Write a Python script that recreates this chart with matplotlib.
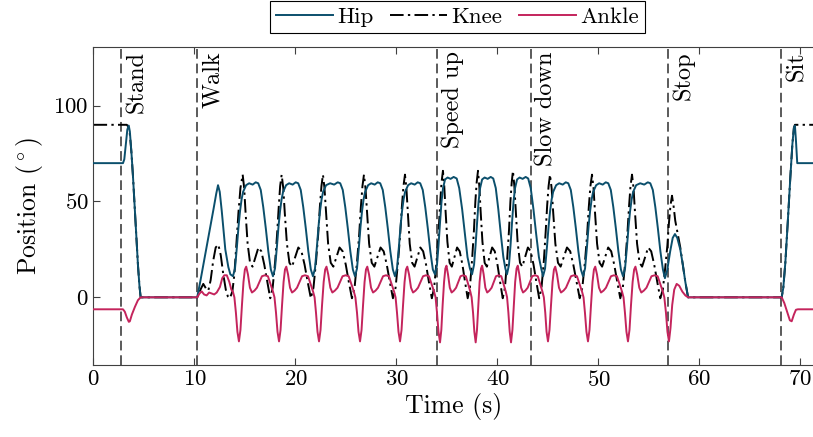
import matplotlib.pyplot as plt

plt.rcParams['font.family'] = 'cmr10'
plt.rcParams['mathtext.fontset'] = 'cm'
plt.rcParams['axes.formatter.use_mathtext'] = True

# phase changes (s) and their names
event_t = [2.72, 10.27, 33.98, 43.29, 56.85, 68.07]
event_names = ['Stand', 'Walk', 'Speed up', 'Slow down', 'Stop', 'Sit']

# hip angle (deg)
hip_t = [0, 2.92, 3.05, 3.2, 3.35, 3.49, 3.6, 3.75, 3.91, 4.08, 4.24, 4.4, 4.55, 4.67, 10.27,
         10.6, 11.0, 11.5, 11.9, 12.15, 12.33, 12.5, 12.7, 12.85, 13.05, 13.35, 13.55,
         13.81, 14.01, 14.21, 14.36, 14.51, 14.66, 14.81, 15.11, 15.41, 15.76, 16.06, 16.31, 16.56, 16.81, 17.06, 17.31, 17.56,
         17.77, 17.97, 18.17, 18.32, 18.47, 18.62, 18.77, 19.07, 19.37, 19.72, 20.02, 20.27, 20.52, 20.77, 21.02, 21.27, 21.52,
         21.73, 21.93, 22.13, 22.28, 22.43, 22.58, 22.73, 23.03, 23.43, 23.83, 24.18, 24.43, 24.68, 24.93, 25.18, 25.43, 25.68,
         25.89, 26.09, 26.29, 26.44, 26.59, 26.74, 26.89, 27.19, 27.49, 27.84, 28.14, 28.39, 28.64, 28.89, 29.14, 29.39, 29.64,
         29.85, 30.05, 30.25, 30.4, 30.55, 30.7, 30.85, 31.15, 31.45, 31.8, 32.1, 32.35, 32.6, 32.85, 33.1, 33.35, 33.6,
         33.81, 34.01, 34.16, 34.31, 34.46, 34.61, 34.81, 35.06, 35.36, 35.66, 35.96, 36.21, 36.5, 36.78, 37.03, 37.27,
         37.48, 37.68, 37.83, 37.98, 38.13, 38.28, 38.48, 38.73, 39.03, 39.33, 39.58, 39.83, 40.08, 40.33, 40.58, 40.78,
         40.94, 41.14, 41.29, 41.44, 41.59, 41.74, 41.94, 42.19, 42.49, 42.79, 43.04, 43.29, 43.56, 43.83, 44.1, 44.33,
         44.51, 44.71, 44.91, 45.06, 45.21, 45.36, 45.51, 45.81, 46.11, 46.46, 46.76, 47.01, 47.26, 47.51, 47.76, 48.01, 48.26,
         48.47, 48.67, 48.87, 49.02, 49.17, 49.32, 49.47, 49.77, 50.07, 50.42, 50.72, 50.97, 51.22, 51.47, 51.72, 51.97, 52.22,
         52.43, 52.63, 52.83, 52.98, 53.13, 53.28, 53.43, 53.73, 54.13, 54.53, 54.88, 55.13, 55.38, 55.63, 55.88, 56.13, 56.38,
         56.58, 56.8, 57.1, 57.35, 57.57, 57.8, 58.1, 58.35, 58.6, 58.87,
         68.14, 68.3, 68.5, 68.75, 69.0, 69.2, 69.35, 69.45, 69.55, 69.68, 71.3]
hip_v = [70, 70, 72, 80, 87.5, 89.6, 86.5, 76, 63, 47, 32, 17, 6, 0, 0,
         9, 20.5, 35, 46.5, 54, 58.5, 55, 45, 36.6, 25, 15.8, 12,
         11, 15, 27, 37, 45, 51, 55, 58.5, 59.5, 58.8, 60, 59.5, 56, 47, 36, 24, 14.5,
         11, 15, 27, 37, 45, 51, 55, 58.5, 59.5, 58.8, 60, 59.5, 56, 47, 36, 24, 14.5,
         11, 15, 27, 37, 45, 51, 55, 58.5, 59.5, 58.8, 60, 59.5, 56, 47, 36, 24, 14.5,
         11, 15, 27, 37, 45, 51, 55, 58.5, 59.5, 58.8, 60, 59.5, 56, 47, 36, 24, 14.5,
         11, 15, 27, 37, 45, 51, 55, 58.5, 59.5, 58.8, 60, 59.5, 56, 47, 36, 24, 14.5,
         12, 17, 27, 39, 50, 57, 61.5, 62.5, 61.8, 62.8, 62, 57, 46, 33, 21, 15,
         12, 17, 27, 39, 50, 57, 61.5, 62.5, 61.8, 62.8, 62, 57, 46, 33, 21, 15,
         12, 17, 27, 39, 50, 57, 61.5, 62.5, 61.8, 62.8, 62, 57, 46, 33, 21, 15,
         11, 15, 27, 37, 45, 51, 55, 58.5, 59.5, 58.8, 60, 59.5, 56, 47, 36, 24, 14.5,
         11, 15, 27, 37, 45, 51, 55, 58.5, 59.5, 58.8, 60, 59.5, 56, 47, 36, 24, 14.5,
         11, 15, 27, 37, 45, 51, 55, 58.5, 59.5, 58.8, 60, 59.5, 56, 47, 36, 24, 14.5,
         10, 14, 24, 31, 33, 31, 25, 17, 8, 0,
         0, 5, 18, 40, 63, 80, 88.5, 89.6, 82, 70, 70]

# knee angle (deg)
knee_t = [0, 3.3, 3.45, 3.6, 3.75, 3.91, 4.08, 4.24, 4.4, 4.55, 4.67, 10.27,
          10.5, 10.87, 11.15, 11.37, 11.6, 11.85, 12.1, 12.36, 12.6, 12.85, 13.1, 13.3, 13.5, 13.75, 13.95, 14.15, 14.35, 14.55,
          14.77, 14.92, 15.06, 15.26, 15.5, 15.75, 16.04, 16.33, 16.62, 16.91, 17.21, 17.5, 17.74, 17.99, 18.18, 18.34, 18.48,
          18.63, 18.79, 18.94, 19.15, 19.4, 19.66, 19.97, 20.28, 20.59, 20.9, 21.21, 21.52, 21.78, 22.04, 22.25, 22.41, 22.57,
          22.72, 22.87, 23.03, 23.23, 23.49, 23.75, 24.05, 24.36, 24.67, 24.98, 25.28, 25.59, 25.85, 26.1, 26.31, 26.47, 26.63,
          26.78, 26.93, 27.09, 27.29, 27.55, 27.81, 28.11, 28.42, 28.73, 29.04, 29.34, 29.65, 29.91, 30.16, 30.37, 30.53, 30.69,
          30.84, 30.98, 31.13, 31.31, 31.55, 31.79, 32.07, 32.36, 32.64, 32.93, 33.21, 33.5, 33.73, 33.97, 34.16, 34.31, 34.46,
          34.6, 34.73, 34.86, 35.04, 35.26, 35.48, 35.74, 36.0, 36.26, 36.53, 36.79, 37.05, 37.27, 37.49, 37.67, 37.81, 37.94,
          38.07, 38.2, 38.33, 38.51, 38.73, 38.95, 39.21, 39.47, 39.73, 40.0, 40.26, 40.52, 40.74, 40.96, 41.14, 41.28, 41.41,
          41.53, 41.67, 41.81, 41.99, 42.23, 42.46, 42.73, 43.01, 43.29, 43.57, 43.85, 44.13, 44.36, 44.59, 44.77, 44.92, 45.06,
          45.2, 45.36, 45.52, 45.73, 45.99, 46.25, 46.57, 46.88, 47.2, 47.51, 47.83, 48.14, 48.4, 48.67, 48.88, 49.04, 49.2,
          49.36, 49.51, 49.66, 49.86, 50.11, 50.36, 50.66, 50.96, 51.26, 51.56, 51.86, 52.16, 52.41, 52.66, 52.86, 53.02, 53.17,
          53.32, 53.47, 53.62, 53.82, 54.07, 54.32, 54.62, 54.92, 55.22, 55.52, 55.82, 56.12, 56.37, 56.62, 56.82, 56.98, 57.13,
          57.28, 57.45, 57.6, 57.85, 58.1, 58.35, 58.6, 58.87,
          68.14, 68.3, 68.5, 68.75, 69.0, 69.2, 69.35, 69.45, 71.3]
knee_v = [90, 90, 89, 85, 76, 63, 47, 32, 17, 6, 0, 0,
          3, 7, 4.5, 3.5, 9, 19, 26, 27.5, 22, 12, 4, 0.5, -0.5, 3, 12, 28, 44, 57,
          64, 57, 44, 28, 18, 16, 21, 26, 24, 17, 8, -0.5, 5, 19, 33, 47, 58,
          64, 57, 44, 28, 18, 16, 21, 26, 24, 17, 8, -0.5, 5, 19, 33, 47, 58,
          64, 57, 44, 28, 18, 16, 21, 26, 24, 17, 8, -0.5, 5, 19, 33, 47, 58,
          64, 57, 44, 28, 18, 16, 21, 26, 24, 17, 8, -0.5, 5, 19, 33, 47, 58,
          64, 57, 44, 28, 18, 16, 21, 26, 24, 17, 8, -0.5, 5, 19, 33, 48, 60,
          66, 58, 45, 29, 18, 16, 21, 26, 24, 17, 8, -0.5, 5, 20, 35, 50, 60,
          66, 58, 45, 29, 18, 16, 21, 26, 24, 17, 8, -0.5, 5, 20, 35, 50, 60,
          66, 58, 45, 29, 18, 16, 21, 26, 24, 17, 8, -0.5, 5, 19, 34, 48, 58,
          64, 57, 44, 28, 18, 16, 21, 26, 24, 17, 8, -0.5, 5, 19, 33, 47, 58,
          64, 57, 44, 28, 18, 16, 21, 26, 24, 17, 8, -0.5, 5, 19, 33, 47, 58,
          64, 57, 44, 28, 18, 16, 21, 26, 24, 17, 8, -0.5, 4, 16, 27, 39, 48,
          53, 47, 40, 33, 26, 17, 8, 0,
          0, 5, 18, 40, 63, 80, 88.5, 90, 90]

# ankle angle (deg)
ankle_t = [0, 2.92, 3.1, 3.3, 3.5, 3.6, 3.8, 4.1, 4.4, 4.67, 10.27,
           10.5, 10.71, 10.95, 11.2, 11.45, 11.7, 11.95, 12.2, 12.52, 12.75, 12.95, 13.2, 13.45, 13.65, 13.8, 13.95, 14.1, 14.25,
           14.4, 14.55, 14.7, 14.85, 14.99, 15.12, 15.29, 15.49, 15.69, 15.94, 16.18, 16.43, 16.68, 16.97, 17.27, 17.52, 17.77, 17.92, 18.07, 18.22,
           18.37, 18.52, 18.67, 18.82, 18.96, 19.09, 19.26, 19.46, 19.66, 19.91, 20.15, 20.4, 20.65, 20.94, 21.24, 21.49, 21.74, 21.89, 22.03, 22.18,
           22.33, 22.48, 22.63, 22.79, 22.94, 23.07, 23.24, 23.45, 23.65, 23.9, 24.16, 24.41, 24.66, 24.97, 25.27, 25.53, 25.78, 25.93, 26.09, 26.24,
           26.39, 26.54, 26.69, 26.84, 26.98, 27.11, 27.28, 27.48, 27.68, 27.93, 28.17, 28.42, 28.67, 28.96, 29.26, 29.51, 29.76, 29.91, 30.05, 30.2,
           30.35, 30.5, 30.65, 30.8, 30.94, 31.07, 31.24, 31.44, 31.64, 31.89, 32.13, 32.38, 32.63, 32.92, 33.22, 33.47, 33.72, 33.87, 34.01, 34.16,
           34.31, 34.44, 34.57, 34.71, 34.84, 34.95, 35.1, 35.28, 35.46, 35.68, 35.9, 36.12, 36.34, 36.6, 36.87, 37.09, 37.31, 37.44, 37.58, 37.71,
           37.84, 37.97, 38.1, 38.23, 38.37, 38.48, 38.63, 38.8, 38.98, 39.2, 39.42, 39.63, 39.85, 40.12, 40.38, 40.6, 40.82, 40.95, 41.08, 41.21,
           41.34, 41.48, 41.62, 41.75, 41.89, 42.01, 42.16, 42.34, 42.53, 42.76, 42.99, 43.22, 43.44, 43.72, 43.99, 44.22, 44.45, 44.59, 44.73, 44.86,
           45.0, 45.15, 45.3, 45.45, 45.59, 45.72, 45.89, 46.09, 46.29, 46.54, 46.78, 47.03, 47.28, 47.57, 47.87, 48.12, 48.37, 48.52, 48.66, 48.81,
           48.96, 49.11, 49.26, 49.41, 49.55, 49.68, 49.85, 50.05, 50.25, 50.5, 50.74, 50.99, 51.24, 51.53, 51.83, 52.08, 52.33, 52.48, 52.62, 52.77,
           52.92, 53.07, 53.22, 53.38, 53.53, 53.66, 53.83, 54.04, 54.24, 54.49, 54.75, 55.0, 55.25, 55.56, 55.86, 56.12, 56.37, 56.52, 56.68, 56.83,
           56.98, 57.13, 57.3, 57.5, 57.74, 58.0, 58.3, 58.6, 58.87,
           68.14, 68.4, 68.7, 68.95, 69.13, 69.35, 69.55, 69.75, 71.3]
ankle_v = [-6.25, -6.25, -7.5, -10.5, -12.8, -12.5, -9, -5, -1.5, 0, 0,
           2, 3.1, 1.5, 1, 2.5, 2, 1.5, 2.5, 5.4, 10, 11.5, 11.5, 8, 4, 3, 0, -8, -18,
           -23, -17, -4, 8, 14.5, 16, 12, 5, 2.5, 3.5, 5, 8, 11, 11.5, 11, 7, 3, 0, -8, -18,
           -23, -17, -4, 8, 14.5, 16, 12, 5, 2.5, 3.5, 5, 8, 11, 11.5, 11, 7, 3, 0, -8, -18,
           -23, -17, -4, 8, 14.5, 16, 12, 5, 2.5, 3.5, 5, 8, 11, 11.5, 11, 7, 3, 0, -8, -18,
           -23, -17, -4, 8, 14.5, 16, 12, 5, 2.5, 3.5, 5, 8, 11, 11.5, 11, 7, 3, 0, -8, -18,
           -23, -17, -4, 8, 14.5, 16, 12, 5, 2.5, 3.5, 5, 8, 11, 11.5, 11, 7, 3, 0, -8, -18,
           -23.5, -17, -4, 8, 15, 16.5, 12, 5, 2.5, 3.5, 5, 8, 11, 11.5, 11, 7, 3, 0, -8, -18,
           -23.5, -17, -4, 8, 15, 16.5, 12, 5, 2.5, 3.5, 5, 8, 11, 11.5, 11, 7, 3, 0, -8, -18,
           -23.5, -17, -4, 8, 15, 16.5, 12, 5, 2.5, 3.5, 5, 8, 11, 11.5, 11, 7, 3, 0, -8, -18,
           -23, -17, -4, 8, 14.5, 16, 12, 5, 2.5, 3.5, 5, 8, 11, 11.5, 11, 7, 3, 0, -8, -18,
           -23, -17, -4, 8, 14.5, 16, 12, 5, 2.5, 3.5, 5, 8, 11, 11.5, 11, 7, 3, 0, -8, -18,
           -23, -17, -4, 8, 14.5, 16, 12, 5, 2.5, 3.5, 5, 8, 11, 11.5, 11, 7, 3, 0, -8, -18,
           -23, -16, -4, 4, 7, 6, 3, 1, 0,
           0, -3, -8, -12, -12.5, -9, -6.5, -6.25, -6.25]

hip_color = '#0B4F6C'
ankle_color = '#C4245C'

fig = plt.figure(figsize=(8.13, 4.37), dpi=100)
ax = fig.add_axes([0.115, 0.1648, 0.885, 0.7277])

for t in event_t:
    ax.axvline(t, color='#5a5a5a', lw=1.4, ls=(0, (5, 2.5)), zorder=1)
for t, name in zip(event_t, event_names):
    ax.text(t + 1.55, 128.5, name, rotation=90, ha='center', va='top', fontsize=17.5)

l1, = ax.plot(hip_t, hip_v, color=hip_color, lw=1.4, label='Hip', zorder=3)
l2, = ax.plot(knee_t, knee_v, color='black', lw=1.4, ls=(0, (7, 2.2, 1.2, 2.2)), label='Knee', zorder=2)
l3, = ax.plot(ankle_t, ankle_v, color=ankle_color, lw=1.4, label='Ankle', zorder=3)

ax.set_xlim(0, 71.24)
ax.set_ylim(-35.3, 130.6)
ax.set_xticks(range(0, 71, 10))
ax.set_yticks([0, 50, 100])
ax.tick_params(direction='in', length=5, width=0.8, color='#404040', top=True, right=False, labelsize=16.5)
for s in ['left', 'bottom', 'top']:
    ax.spines[s].set_color('#404040')
    ax.spines[s].set_linewidth(0.8)
ax.spines['right'].set_visible(False)

ax.set_xlabel('Time (s)', fontsize=18.5, labelpad=2)
ax.set_ylabel(r'Position ($^\circ$)', fontsize=18.5, labelpad=6)

leg = fig.legend(handles=[l1, l2, l3], loc='upper center', bbox_to_anchor=(0.5625, 1.0), ncol=3,
                 fontsize=16.5, frameon=True, fancybox=False, edgecolor='black', framealpha=1,
                 handlelength=2.5, columnspacing=0.7, handletextpad=0.2, borderaxespad=0.05, borderpad=0.25)
leg.get_frame().set_linewidth(0.8)

fig.savefig('out.png', dpi=100)
